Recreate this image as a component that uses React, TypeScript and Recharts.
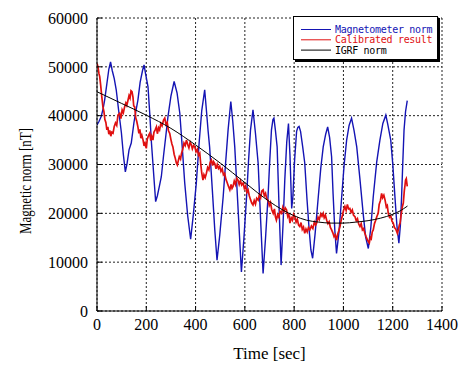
import React from "react";
import {
  LineChart,
  Line,
  XAxis,
  YAxis,
  CartesianGrid,
} from "recharts";

// values
const xTicks = [0, 200, 400, 600, 800, 1000, 1200, 1400];
const yTicks = [0, 10000, 20000, 30000, 40000, 50000, 60000];

const magTime = [
  0, 8, 17, 25, 31, 40, 48, 55, 62, 70, 78, 88, 99, 107, 115, 122, 130, 139, 150, 158,
  166, 175, 185, 191, 197, 207, 214, 221, 230, 238, 245, 253, 261, 270, 280, 288, 300, 313, 325, 336,
  346, 356, 368, 380, 391, 403, 415, 425, 437, 445, 451, 457, 468, 478, 487, 498, 512, 522, 532, 543,
  551, 559, 568, 577, 586, 596, 607, 615, 623, 633, 643, 654, 664, 674, 684, 694, 700, 708, 714, 718,
  724, 731, 739, 747, 755, 762, 770, 777, 783, 790, 795, 802, 810, 815, 820, 826, 835, 843, 852, 861,
  868, 875, 885, 898, 908, 918, 928, 936, 944, 952, 958, 965, 972, 982, 993, 1003, 1013, 1023, 1033, 1043,
  1054, 1067, 1080, 1090, 1101, 1111, 1121, 1135, 1148, 1160, 1172, 1180, 1192, 1200, 1209, 1217, 1225, 1231, 1236, 1241,
  1246, 1252, 1259,
];
const magNorm = [
  38100, 38800, 39800, 41500, 43200, 46500, 49500, 51000, 49200, 47600, 45300, 41000, 36500, 32000, 28500, 30200, 33000, 34400, 38600, 41000,
  43200, 46800, 49300, 50400, 48600, 45900, 40500, 34400, 28000, 22400, 23600, 25500, 27500, 31800, 36200, 39800, 44000, 47000, 44600, 40500,
  33500, 26200, 19500, 14700, 19800, 26200, 34800, 41000, 45300, 40500, 36800, 33600, 24800, 16600, 10400, 15500, 23400, 30400, 37100, 42900,
  38800, 33600, 25200, 16600, 8000, 14800, 23400, 30800, 37100, 41200, 36400, 30200, 18600, 7700, 15000, 23400, 29800, 37100, 39200, 39500,
  37000, 33600, 21000, 9400, 17800, 26800, 34600, 38400, 32000, 21000, 23500, 31000, 36800, 37600, 37800, 36800, 33500, 30300, 23000, 16600,
  12500, 10800, 15800, 23400, 29200, 33600, 36200, 37700, 35500, 31600, 24000, 16600, 11800, 16200, 23400, 30000, 35000, 38000, 39500, 37000,
  33600, 27000, 20000, 15200, 12800, 17000, 23400, 30500, 35000, 38400, 40100, 38200, 35000, 30200, 23400, 17500, 13900, 17500, 23400, 30500,
  37100, 40800, 43100,
];

const calTime = [
  0, 4, 8, 11, 15, 19, 24, 28, 32, 36, 40, 44, 48, 52, 56, 60, 65, 70, 75, 80,
  85, 92, 97, 102, 107, 112, 117, 121, 126, 130, 134, 138, 142, 146, 149, 153, 157, 161, 166, 170,
  174, 178, 182, 187, 191, 195, 200, 204, 209, 214, 218, 222, 227, 231, 236, 241, 245, 250, 254, 259,
  264, 270, 275, 280, 285, 290, 295, 300, 304, 308, 313, 318, 322, 326, 330, 334, 339, 343, 348, 353,
  358, 363, 368, 373, 378, 383, 387, 392, 397, 402, 407, 412, 417, 421, 425, 430, 434, 439, 444, 449,
  454, 459, 464, 469, 473, 478, 483, 488, 493, 498, 503, 508, 513, 518, 523, 528, 533, 539, 544, 548,
  552, 557, 562, 567, 572, 577, 582, 587, 593, 598, 603, 608, 613, 618, 623, 628, 633, 638, 643, 648,
  654, 659, 664, 669, 674, 679, 684, 689, 694, 699, 704, 709, 715, 720, 724, 728, 733, 738, 743, 749,
  754, 759, 764, 769, 774, 778, 783, 788, 793, 798, 803, 808, 813, 818, 823, 828, 833, 838, 843, 848,
  853, 858, 864, 870, 876, 882, 887, 891, 897, 902, 908, 913, 918, 922, 927, 932, 937, 942, 947, 952,
  957, 962, 967, 972, 977, 981, 986, 991, 996, 1001, 1006, 1011, 1016, 1021, 1026, 1031, 1036, 1041, 1047, 1052,
  1057, 1062, 1067, 1072, 1077, 1082, 1087, 1092, 1097, 1101, 1105, 1109, 1113, 1117, 1121, 1126, 1131, 1136, 1141, 1145,
  1150, 1155, 1159, 1164, 1169, 1174, 1178, 1182, 1187, 1192, 1197, 1202, 1207, 1212, 1216, 1219, 1223, 1227, 1230, 1235,
  1239, 1243, 1247, 1250, 1252, 1255, 1259,
];
const calResult = [
  50700, 50000, 48600, 48000, 46200, 44100, 41800, 40900, 39200, 38600, 37100, 37700, 36200, 37000, 35800, 36600, 36400, 37800, 38500, 38000,
  40100, 40500, 39400, 41200, 40600, 41800, 42600, 42100, 43200, 44100, 43600, 45100, 44900, 43800, 42000, 41800, 39600, 38900, 37700, 36400,
  37200, 35400, 36000, 35000, 33800, 34400, 33300, 35200, 35900, 36400, 34900, 35800, 35000, 36600, 37100, 37700, 36300, 37500, 37100, 38400,
  37900, 39100, 39500, 38200, 38600, 36900, 36400, 35100, 34200, 33600, 32100, 31200, 30300, 29900, 30800, 31600, 31100, 32300, 33100, 34400,
  33900, 35000, 34100, 33400, 34600, 34000, 33200, 33900, 33600, 32600, 33100, 31900, 32300, 30100, 28300, 26800, 27900, 27300, 28200, 29400,
  28900, 30400, 30900, 29800, 30600, 30200, 29100, 30000, 29200, 29600, 28600, 29100, 27900, 28200, 27000, 26300, 25600, 24800, 25900, 25100,
  25500, 26600, 25900, 27200, 26800, 25900, 26700, 25800, 26200, 25100, 25600, 24300, 24800, 23600, 22800, 22100, 21700, 22600, 21900, 23100,
  22700, 23800, 23200, 24600, 24800, 23600, 24100, 22900, 22700, 21600, 22200, 20800, 20000, 20900, 19300, 18600, 19700, 19200, 20400, 20000,
  21200, 20400, 21100, 20700, 19400, 20000, 18000, 19100, 18600, 19800, 19300, 18200, 18800, 17600, 17300, 18100, 16700, 17200, 15900, 16800,
  16200, 17100, 16600, 17400, 16900, 18200, 17600, 18000, 19200, 18700, 19900, 19400, 20000, 19100, 19600, 18600, 17900, 18300, 17100, 16600,
  16000, 15200, 15600, 14500, 15800, 16400, 17300, 18600, 19600, 20700, 21400, 20600, 21800, 20900, 21000, 20200, 20700, 19600, 19300, 18500,
  18900, 17800, 17300, 17900, 16600, 16900, 15900, 15200, 14600, 14200, 13900, 15100, 14800, 16200, 16600, 17900, 18600, 19400, 20000, 21800,
  22600, 24100, 23200, 23700, 22700, 21300, 21600, 20000, 19200, 19500, 18400, 18000, 17100, 16800, 16300, 15900, 16700, 17600, 18000, 20100,
  21300, 22100, 24600, 25800, 26800, 27100, 25500,
];

const igrfTime = [0, 100, 200, 300, 400, 500, 600, 700, 750, 800, 850, 900, 950, 1000, 1050, 1100, 1150, 1200, 1230, 1260];
const igrfNorm = [44900, 42500, 40100, 37400, 34000, 30300, 26300, 22400, 20800, 19500, 18600, 18200, 18000, 18000, 18200, 18500, 19000, 19800, 20500, 21500];

const pair = (ts: number[], vs: number[]) => ts.map((t, i) => ({ t, v: vs[i] }));
const magData = pair(magTime, magNorm);
const calData = pair(calTime, calResult);
const igrfData = pair(igrfTime, igrfNorm);

const BLUE = "#1414b4";
const RED = "#e01010";
const serif = "'Liberation Serif', 'Times New Roman', serif";
const tickStyle = { fontFamily: serif, fontSize: 16, fill: "#000" };

const legendRows = [
  { label: "Magnetometer norm", color: BLUE },
  { label: "Calibrated result", color: RED },
  { label: "IGRF norm", color: "#000" },
];

function LegendBox() {
  return (
    <div
      style={{
        position: "absolute",
        left: 293,
        top: 16,
        width: 143,
        height: 42,
        background: "#fff",
        border: "1px solid #000",
        boxShadow: "2px 2px 0 #000",
      }}
    >
      <svg width={143} height={42}>
        {legendRows.map((r, i) => {
          const cy = 12.5 + i * 10.3;
          return (
            <g key={r.label}>
              <line x1={7} x2={37} y1={cy} y2={cy} stroke={r.color} strokeWidth={1} />
              <text
                x={41}
                y={cy + 3.5}
                fill={r.color}
                fontFamily="'DejaVu Sans Mono', monospace"
                fontSize={10}
                letterSpacing={-0.3}
              >
                {r.label}
              </text>
            </g>
          );
        })}
      </svg>
    </div>
  );
}

export default function App() {
  return (
    <div style={{ position: "absolute", left: 0, top: 0, width: 464, height: 365, background: "#fff" }}>
      <LineChart width={464} height={365} margin={{ top: 18, right: 22, bottom: 0, left: 37 }}>
        <CartesianGrid stroke="#222" strokeDasharray="2 2" />
        <XAxis
          dataKey="t"
          type="number"
          domain={[0, 1400]}
          ticks={xTicks}
          allowDataOverflow
          height={54}
          stroke="#000"
          tickSize={-5}
          tickMargin={13}
          tick={tickStyle}
          label={{
            value: "Time [sec]",
            position: "insideBottom",
            offset: 6,
            style: { fontFamily: serif, fontSize: 17, fill: "#000" },
          }}
        />
        <XAxis
          xAxisId="top"
          orientation="top"
          type="number"
          domain={[0, 1400]}
          ticks={xTicks}
          height={0}
          stroke="#000"
          tickSize={-5}
          tick={false}
        />
        <YAxis
          type="number"
          domain={[0, 60000]}
          ticks={yTicks}
          width={60}
          stroke="#000"
          tickSize={-5}
          tickMargin={14}
          tick={tickStyle}
          label={{
            content: () => (
              <text
                x={31}
                y={181}
                transform="rotate(-90 31 181)"
                textAnchor="middle"
                fontFamily={serif}
                fontSize={17}
                textLength={106}
                lengthAdjust="spacingAndGlyphs"
                fill="#000"
              >
                Magnetic norm [nT]
              </text>
            ),
          }}
        />
        <YAxis
          yAxisId="right"
          orientation="right"
          type="number"
          domain={[0, 60000]}
          ticks={yTicks}
          width={0}
          stroke="#000"
          tickSize={-5}
          tick={false}
        />
        <Line
          data={magData}
          dataKey="v"
          type="linear"
          stroke={BLUE}
          strokeWidth={1.4}
          dot={false}
          isAnimationActive={false}
        />
        <Line
          data={calData}
          dataKey="v"
          type="linear"
          stroke={RED}
          strokeWidth={1.7}
          dot={false}
          isAnimationActive={false}
        />
        <Line
          data={igrfData}
          dataKey="v"
          type="monotone"
          stroke="#000"
          strokeWidth={1}
          dot={false}
          isAnimationActive={false}
        />
      </LineChart>
      <LegendBox />
    </div>
  );
}
